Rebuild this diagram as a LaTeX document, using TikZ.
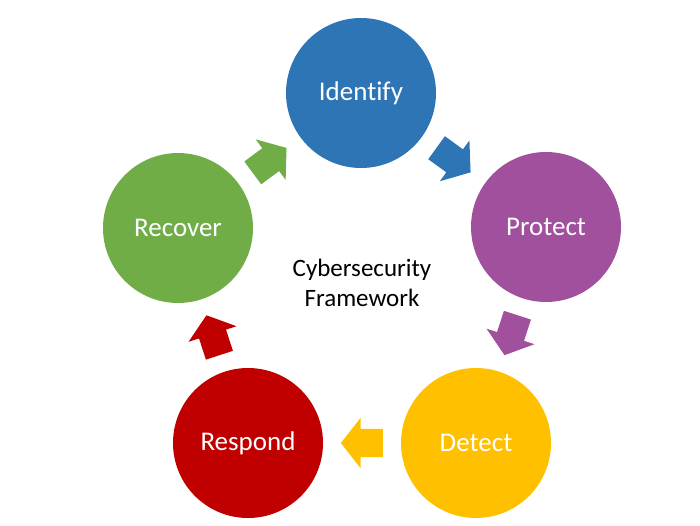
\documentclass[tikz,border=0pt]{standalone}
\usepackage{fontspec}
\setmainfont{Carlito}[Ligatures=NoCommon]
\usetikzlibrary{shapes.arrows}

\definecolor{idblue}{RGB}{46,117,182}
\definecolor{prpurple}{RGB}{160,80,156}
\definecolor{deyellow}{RGB}{255,192,0}
\definecolor{rered}{RGB}{192,0,0}
\definecolor{rcgreen}{RGB}{112,173,71}

\begin{document}
\begin{tikzpicture}[x=1pt, y=-1pt,
  stage/.style={circle, minimum size=150pt, inner sep=0pt, text=white,
    font=\fontsize{27}{32}\selectfont},
  blockarr/.style={single arrow, minimum height=42pt, minimum width=50pt,
    single arrow head extend=11pt, single arrow tip angle=104,
    inner xsep=0pt, inner ysep=14pt, sloped, allow upside down, pos=0.43}]
\useasboundingbox (0,0) rectangle (700,525);
% the five stages
\node[stage, fill=idblue] (identify) at (361,93) {Identify};
\node[stage, fill=prpurple] (protect) at (546,227) {Protect};
\node[stage, fill=deyellow] (detect) at (476,443) {Detect};
\node[stage, fill=rered] (respond) at (248,443) {Respond};
\node[stage, fill=rcgreen] (recover) at (178,228) {Recover};
\node[align=center, font=\fontsize{25}{30}\selectfont] (title) at (362,283)
  {Cybersecurity\\Framework};
% block arrows between the stages
\path (recover) -- node[blockarr, fill=rcgreen] (a1) {} (identify);
\path (identify) -- node[blockarr, fill=idblue] (a2) {} (protect);
\path (protect) -- node[blockarr, fill=prpurple] (a3) {} (detect);
\path (detect) -- node[blockarr, fill=deyellow] (a4) {} (respond);
\path (respond) -- node[blockarr, fill=rered] (a5) {} (recover);
\end{tikzpicture}
\end{document}
